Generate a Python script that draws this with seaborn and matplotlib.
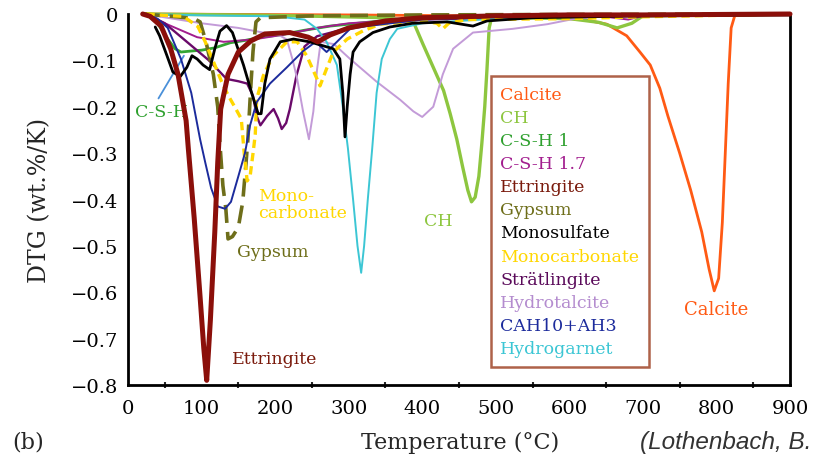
import numpy as np
import pandas as pd
import seaborn as sns
import matplotlib.pyplot as plt
from matplotlib.ticker import FixedLocator, MultipleLocator

# ---- DTG curves of the pure phases (temperature in °C, DTG in wt.%/K) ----
calcite_T = [25, 300, 550, 620, 651, 678, 696, 710, 723, 734, 750, 765, 780, 790, 797, 803, 808, 812, 816, 820, 825, 900]
calcite_D = [0, -0.002, -0.005, -0.012, -0.022, -0.047, -0.082, -0.11, -0.16, -0.22, -0.3, -0.38, -0.47, -0.55, -0.597, -0.57, -0.45, -0.3, -0.15, -0.03, -0.003, 0]

ch_T = [25, 200, 350, 388, 401, 415, 429, 438, 447, 455, 462, 467, 472, 477, 481, 485, 488, 491, 494, 520, 600, 640, 665, 685, 700, 900]
ch_D = [0, -0.003, -0.008, -0.017, -0.065, -0.115, -0.165, -0.215, -0.27, -0.33, -0.38, -0.405, -0.395, -0.35, -0.28, -0.2, -0.12, -0.03, -0.01, -0.008, -0.01, -0.018, -0.03, -0.02, -0.004, 0]

csh1_T = [25, 40, 54, 64, 72, 85, 100, 118, 139, 159, 181, 207, 240, 275, 343, 400, 500, 600, 900]
csh1_D = [0, -0.02, -0.054, -0.075, -0.082, -0.08, -0.078, -0.073, -0.062, -0.057, -0.05, -0.045, -0.035, -0.026, -0.015, -0.01, -0.006, -0.003, 0]

csh17_T = [25, 50, 94, 130, 170, 210, 257, 300, 400, 500, 650, 680, 700, 900]
csh17_D = [0, -0.02, -0.05, -0.06, -0.055, -0.045, -0.03, -0.02, -0.01, -0.006, -0.006, -0.012, -0.004, 0]

ettringite_T = [20, 30, 45, 58, 68, 79, 82, 90, 98, 103, 107, 112, 118, 122, 126, 136, 150, 167, 186, 220, 245, 258, 275, 300, 350, 400, 500, 600, 700, 800, 900]
ettringite_D = [0, -0.005, -0.026, -0.075, -0.13, -0.23, -0.29, -0.44, -0.61, -0.72, -0.79, -0.66, -0.47, -0.32, -0.205, -0.13, -0.082, -0.058, -0.043, -0.04, -0.05, -0.06, -0.045, -0.03, -0.015, -0.008, -0.004, -0.002, -0.002, -0.001, 0]

gypsum_T = [20, 60, 90, 98, 106, 116, 122, 125, 129, 133, 136, 142, 150, 156, 160, 163, 167, 170, 174, 180, 250, 400, 600, 900]
gypsum_D = [0, -0.005, -0.01, -0.017, -0.06, -0.13, -0.2, -0.28, -0.37, -0.42, -0.485, -0.48, -0.46, -0.405, -0.33, -0.27, -0.155, -0.08, -0.017, -0.008, -0.004, -0.002, -0.001, 0]

monosulfate_T = [37, 43, 53, 61, 71, 80, 87, 94, 102, 111, 118, 125, 134, 142, 157, 170, 177, 181, 186, 193, 207, 225, 247, 279, 288, 292, 295, 298, 302, 306, 315, 333, 356, 387, 434, 469, 488, 550, 700, 900]
monosulfate_D = [-0.028, -0.047, -0.09, -0.125, -0.135, -0.115, -0.09, -0.097, -0.11, -0.12, -0.075, -0.037, -0.025, -0.04, -0.11, -0.18, -0.215, -0.215, -0.15, -0.097, -0.06, -0.054, -0.06, -0.075, -0.097, -0.17, -0.265, -0.2, -0.13, -0.082, -0.06, -0.04, -0.028, -0.02, -0.017, -0.026, -0.015, -0.008, -0.004, -0.002]

monocarb_T = [25, 50, 75, 95, 105, 118, 127, 136, 145, 154, 158, 162, 166, 170, 173, 175, 184, 197, 216, 230, 243, 257, 261, 270, 279, 298, 320, 343, 400, 420, 428, 436, 460, 600, 700, 900]
monocarb_D = [0, -0.003, -0.005, -0.027, -0.06, -0.11, -0.145, -0.175, -0.2, -0.226, -0.3, -0.36, -0.35, -0.3, -0.26, -0.183, -0.133, -0.09, -0.06, -0.06, -0.09, -0.14, -0.155, -0.118, -0.082, -0.054, -0.036, -0.022, -0.015, -0.02, -0.032, -0.02, -0.012, -0.01, -0.006, 0]

stratlingite_T = [25, 50, 80, 110, 134, 150, 162, 170, 175, 180, 189, 198, 204, 209, 215, 220, 229, 240, 257, 300, 350, 400, 500, 650, 700, 900]
stratlingite_D = [0, -0.02, -0.06, -0.1, -0.14, -0.145, -0.15, -0.177, -0.22, -0.24, -0.22, -0.205, -0.225, -0.248, -0.235, -0.205, -0.133, -0.07, -0.048, -0.03, -0.02, -0.012, -0.008, -0.005, -0.003, 0]

hydrotalcite_T = [25, 45, 100, 150, 207, 216, 224, 230, 238, 246, 252, 257, 262, 280, 302, 338, 370, 388, 400, 415, 428, 442, 469, 523, 570, 605, 650, 900]
hydrotalcite_D = [0, -0.006, -0.02, -0.03, -0.047, -0.055, -0.1, -0.14, -0.21, -0.27, -0.21, -0.12, -0.06, -0.065, -0.097, -0.146, -0.185, -0.21, -0.222, -0.2, -0.13, -0.075, -0.04, -0.032, -0.022, -0.011, -0.004, 0]

cah10_T = [25, 40, 54, 72, 86, 98, 105, 113, 122, 132, 140, 150, 159, 166, 175, 193, 216, 238, 255, 270, 284, 302, 325, 400, 500, 700, 900]
cah10_D = [0, -0.01, -0.03, -0.097, -0.17, -0.27, -0.32, -0.375, -0.415, -0.42, -0.405, -0.35, -0.3, -0.24, -0.19, -0.15, -0.115, -0.08, -0.06, -0.082, -0.06, -0.032, -0.026, -0.012, -0.006, -0.003, 0]

hydrogarnet_T = [25, 100, 200, 240, 257, 270, 284, 292, 299, 306, 312, 317, 321, 326, 332, 338, 345, 356, 366, 400, 500, 600, 900]
hydrogarnet_D = [0, -0.003, -0.005, -0.012, -0.032, -0.06, -0.11, -0.2, -0.29, -0.4, -0.5, -0.558, -0.5, -0.4, -0.29, -0.17, -0.097, -0.054, -0.032, -0.02, -0.01, -0.005, 0]

phases = ["Calcite", "CH", "C-S-H 1", "C-S-H 1.7", "Ettringite", "Gypsum", "Monosulfate",
          "Monocarbonate", "Strätlingite", "Hydrotalcite", "CAH10+AH3", "Hydrogarnet"]
temps = [calcite_T, ch_T, csh1_T, csh17_T, ettringite_T, gypsum_T, monosulfate_T,
         monocarb_T, stratlingite_T, hydrotalcite_T, cah10_T, hydrogarnet_T]
dtgs = [calcite_D, ch_D, csh1_D, csh17_D, ettringite_D, gypsum_D, monosulfate_D,
        monocarb_D, stratlingite_D, hydrotalcite_D, cah10_D, hydrogarnet_D]

x_ticks = [0, 100, 200, 300, 400, 500, 600, 700, 800, 900]
y_ticks = [-0.8, -0.7, -0.6, -0.5, -0.4, -0.3, -0.2, -0.1, 0]
y_tick_labels = ["−0.8", "−0.7", "−0.6", "−0.5", "−0.4", "−0.3", "−0.2", "−0.1", "0"]

# ---- styling ----
styles = {
    "Calcite":       dict(color="#ff5a14", lw=2.0, ls="-", z=3),
    "CH":            dict(color="#8dc63f", lw=2.4, ls="-", z=3),
    "C-S-H 1":       dict(color="#33a532", lw=2.0, ls="-", z=3),
    "C-S-H 1.7":     dict(color="#a21d8e", lw=1.4, ls="-", z=3),
    "Ettringite":    dict(color="#8b0f0a", lw=3.6, ls="-", z=6),
    "Gypsum":        dict(color="#6e6e1a", lw=2.6, ls=(0, (5, 2.5)), z=4),
    "Monosulfate":   dict(color="#000000", lw=2.0, ls="-", z=5),
    "Monocarbonate": dict(color="#ffd700", lw=2.4, ls=(0, (2.5, 1.5)), z=4),
    "Strätlingite":  dict(color="#6a0a6a", lw=1.7, ls="-", z=3),
    "Hydrotalcite":  dict(color="#c39bd8", lw=1.4, ls="-", z=3),
    "CAH10+AH3":     dict(color="#1c2b9c", lw=1.4, ls="-", z=4),
    "Hydrogarnet":   dict(color="#3cc6d4", lw=1.4, ls="-", z=3),
}
legend_colors = {
    "Calcite": "#ff5a14", "CH": "#8dc63f", "C-S-H 1": "#2ea02e", "C-S-H 1.7": "#a21d8e",
    "Ettringite": "#7a1a0c", "Gypsum": "#6e6e1a", "Monosulfate": "#000000",
    "Monocarbonate": "#ffd700", "Strätlingite": "#5a0a5a", "Hydrotalcite": "#b48ccf",
    "CAH10+AH3": "#1c2b9c", "Hydrogarnet": "#3cc6d4",
}

df = pd.concat(
    [pd.DataFrame({"phase": p, "T": t, "DTG": d}) for p, t, d in zip(phases, temps, dtgs)],
    ignore_index=True,
)

sns.set_style("white")
plt.rcParams["font.family"] = ["DejaVu Serif"]
plt.rcParams["axes.unicode_minus"] = True

fig = plt.figure(figsize=(8.19, 4.64), dpi=100)
ax = fig.add_axes([128 / 819, 1 - 386 / 464, 662 / 819, 371 / 464])

for p in phases:
    st = styles[p]
    sns.lineplot(data=df[df["phase"] == p], x="T", y="DTG", ax=ax, estimator=None, sort=False,
                 color=st["color"], linewidth=st["lw"], linestyle=st["ls"], label=p,
                 zorder=st["z"], clip_on=False)

ax.set_xlim(0, 900)
ax.set_ylim(-0.8, 0)
ax.xaxis.set_major_locator(FixedLocator(x_ticks))
ax.xaxis.set_minor_locator(MultipleLocator(50))
ax.set_xticklabels([str(v) for v in x_ticks])
ax.yaxis.set_major_locator(FixedLocator(y_ticks))
ax.set_yticklabels(y_tick_labels)
ax.tick_params(axis="both", which="major", direction="inout", length=8, width=1.8,
               labelsize=14, color="black", labelcolor="black")
ax.tick_params(axis="x", which="minor", direction="inout", length=5, width=1.5, bottom=True)
ax.tick_params(axis="x", pad=6)
ax.tick_params(axis="y", pad=3)

for s in ["left", "bottom", "right"]:
    ax.spines[s].set_visible(True)
    ax.spines[s].set_color("black")
    ax.spines[s].set_linewidth(2.0)
ax.spines["top"].set_visible(False)

ax.set_xlabel("Temperature (°C)", fontsize=16)
ax.set_ylabel("DTG (wt.%/K)", fontsize=17)
ax.xaxis.set_label_coords((460 - 128) / 662, (386 - 443) / 371)
ax.xaxis.label.set_va("center")
ax.yaxis.set_label_coords((40 - 128) / 662, 0.5)
ax.yaxis.label.set_va("center")

# legend: coloured names only
leg = ax.legend(loc="upper left", bbox_to_anchor=(0.548, 0.833), handlelength=0, handletextpad=0,
                fontsize=12.5, labelspacing=0.355, borderpad=0.55, frameon=True, fancybox=False,
                borderaxespad=0)
leg.get_frame().set_edgecolor("#9a3b1c")
leg.get_frame().set_linewidth(1.8)
leg.set_zorder(10)
for h in leg.legend_handles:
    h.set_visible(False)
for t in leg.get_texts():
    t.set_color(legend_colors[t.get_text()])

# peak labels
lab_fs = 12.5
ax.annotate("C-S-H", xy=(76, -0.09), xytext=(9, -0.21), color="#2ea02e", fontsize=lab_fs,
            va="center", ha="left",
            arrowprops=dict(arrowstyle="-", color="#4a90d9", lw=1.3, relpos=(0.4, 1.0),
                            shrinkA=1, shrinkB=0))
ax.text(177, -0.41, "Mono-\ncarbonate", color="#ffd700", fontsize=lab_fs, va="center", ha="left",
        linespacing=1.05)
ax.text(148, -0.513, "Gypsum", color="#6e6e1a", fontsize=lab_fs, va="center", ha="left")
ax.text(141, -0.742, "Ettringite", color="#7a1a0c", fontsize=lab_fs, va="center", ha="left")
ax.text(402, -0.446, "CH", color="#8dc63f", fontsize=lab_fs, va="center", ha="left")
ax.text(756, -0.636, "Calcite", color="#ff5a14", fontsize=13, va="center", ha="left")

fig.text(12 / 819, 1 - 443 / 464, "(b)", fontsize=16, va="center", ha="left")
fig.text(640 / 819, 1 - 443 / 464, "(Lothenbach, B.", fontsize=17.5, va="center", ha="left",
         family=["Liberation Sans", "DejaVu Sans"], style="italic", color="#333333")

fig.savefig("out.png", dpi=100)
